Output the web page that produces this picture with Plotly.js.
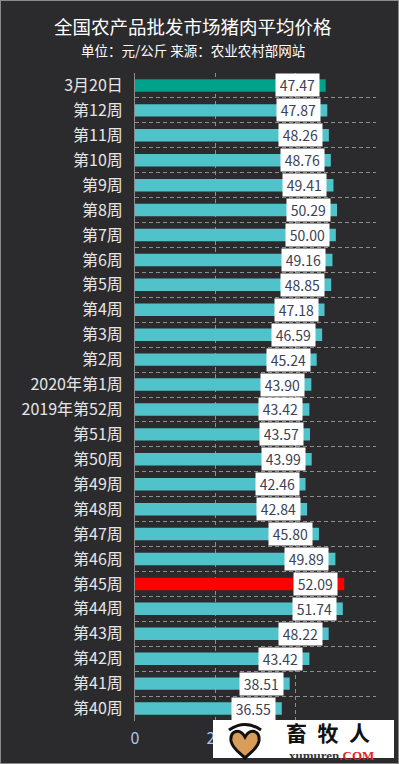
<!DOCTYPE html>
<html>
<head>
<meta charset="utf-8">
<script src="https://cdn.plot.ly/plotly-3.0.1.min.js"></script>
<style>html,body{margin:0;padding:0;background:#2b2b2e;}#chart{width:399px;height:764px;}</style>
</head>
<body>
<div id="chart"></div>
<script>
// Categories, top to bottom
const categories = ['3月20日','第12周','第11周','第10周','第9周','第8周','第7周','第6周','第5周','第4周','第3周','第2周','2020年第1周','2019年第52周','第51周','第50周','第49周','第48周','第47周','第46周','第45周','第44周','第43周','第42周','第41周','第40周'];
const prices = [47.47,47.87,48.26,48.76,49.41,50.29,50.00,49.16,48.85,47.18,46.59,45.24,43.90,43.42,43.57,43.99,42.46,42.84,45.80,49.89,52.09,51.74,48.22,43.42,38.51,36.55];
const xTicks = [0,20,40,60];
const xTickLabels = ['0','20','',''];   // 40 and 60 are hidden behind the logo in the reference

const titleText = '全国农产品批发市场猪肉平均价格';
const subtitleText = '单位：元/公斤 来源：农业农村部网站';

const W = 399, H = 764;
const M = {l:135, r:23, t:73, b:43};
const PW = W - M.l - M.r, PH = H - M.t - M.b;
const px = x => (x - M.l) / PW;
const py = y => (H - M.b - y) / PH;

const colors = categories.map(c => c === '3月20日' ? '#00a389' : (c === '第45周' ? '#ff0000' : '#4fc3c9'));
const FONT = '"Noto Sans CJK SC", "Microsoft YaHei", sans-serif';

const trace = {
  type: 'bar',
  orientation: 'h',
  x: prices,
  y: categories,
  width: 0.5,
  marker: {color: colors},
  hoverinfo: 'skip'
};

const labelAnns = prices.map((v, i) => ({
  x: v, y: categories[i], xref: 'x', yref: 'y',
  text: '\u2009' + v.toFixed(2) + '\u2009',
  showarrow: false, xanchor: 'right', yanchor: 'middle', xshift: -6,
  bgcolor: '#ffffff', borderpad: 1,
  font: {family: FONT, size: 14, color: '#3b4256'}
}));

const annotations = labelAnns.concat([
  {xref:'paper', yref:'paper', x: px(193), y: py(50), text: subtitleText, showarrow:false,
   xanchor:'center', yanchor:'middle', font:{family:FONT, size:13.5, color:'#ffffff'}},
  {xref:'paper', yref:'paper', x: px(193), y: py(26), text: titleText, showarrow:false,
   xanchor:'center', yanchor:'middle', font:{family:FONT, size:18.5, color:'#ffffff'}},
  {xref:'paper', yref:'paper', x: px(328), y: py(732), text: '畜\u2002牧\u2002人', showarrow:false,
   xanchor:'center', yanchor:'middle', font:{family:FONT, size:21, color:'#111111', weight:700}},
  {xref:'paper', yref:'paper', x: px(331), y: py(755), text: 'xumuren<span style="color:#e82020">.COM</span>', showarrow:false,
   xanchor:'center', yanchor:'middle', font:{family:'"Liberation Serif", serif', size:13, color:'#333333', weight:700}}
]);

const shapes = [
  {type:'rect', xref:'paper', yref:'paper', x0: px(213), x1: px(394), y0: py(720), y1: py(758),
   fillcolor:'#ffffff', line:{width:0}, layer:'above'},
  {type:'path', xref:'paper', yref:'paper', xsizemode:'pixel', ysizemode:'pixel',
   xanchor: px(245), yanchor: py(743),
   path:'M 0 6 C -5 15, -15 13, -14 2 C -12 -7, -3 -11, 0 -15 C 3 -11, 12 -7, 14 2 C 15 13, 5 15, 0 6 Z',
   fillcolor:'#d89d58', line:{color:'#111111', width:3}, layer:'above'},
  {type:'path', xref:'paper', yref:'paper', xsizemode:'pixel', ysizemode:'pixel',
   xanchor: px(245), yanchor: py(743),
   path:'M -16 13 Q 0 24 16 13',
   line:{color:'#111111', width:3}, layer:'above'},
  {type:'rect', xref:'paper', yref:'paper', x0: px(0), x1: px(W), y0: py(0), y1: py(H),
   fillcolor:'rgba(0,0,0,0)', line:{color:'#8a8a8a', width:2}, layer:'above'}
];

const layout = {
  width: W, height: H,
  margin: M,
  paper_bgcolor: '#2b2b2e',
  plot_bgcolor: '#2b2b2e',
  showlegend: false,
  font: {family: FONT},
  xaxis: {
    range: [0, 60], tickvals: xTicks, ticktext: xTickLabels,
    showgrid: true, gridcolor: '#8e8e8e', griddash: '4px,3px', gridwidth: 1,
    zeroline: false, showline: false, ticks: '', ticklabelstandoff: 6,
    tickfont: {family: FONT, size: 16, color: '#a9c8ee'}, fixedrange: true
  },
  yaxis: {
    type: 'category', autorange: 'reversed', tickson: 'boundaries',
    showgrid: true, gridcolor: '#8e8e8e', griddash: '4px,3px', gridwidth: 1,
    showline: true, linecolor: '#8c8c8c', linewidth: 1, zeroline: false,
    ticks: '', ticklabelstandoff: 8,
    tickfont: {family: FONT, size: 16, color: '#e6e6e6'}, fixedrange: true
  },
  annotations: annotations,
  shapes: shapes
};

Plotly.newPlot('chart', [trace], layout, {displayModeBar: false, staticPlot: true});
</script>
</body>
</html>
